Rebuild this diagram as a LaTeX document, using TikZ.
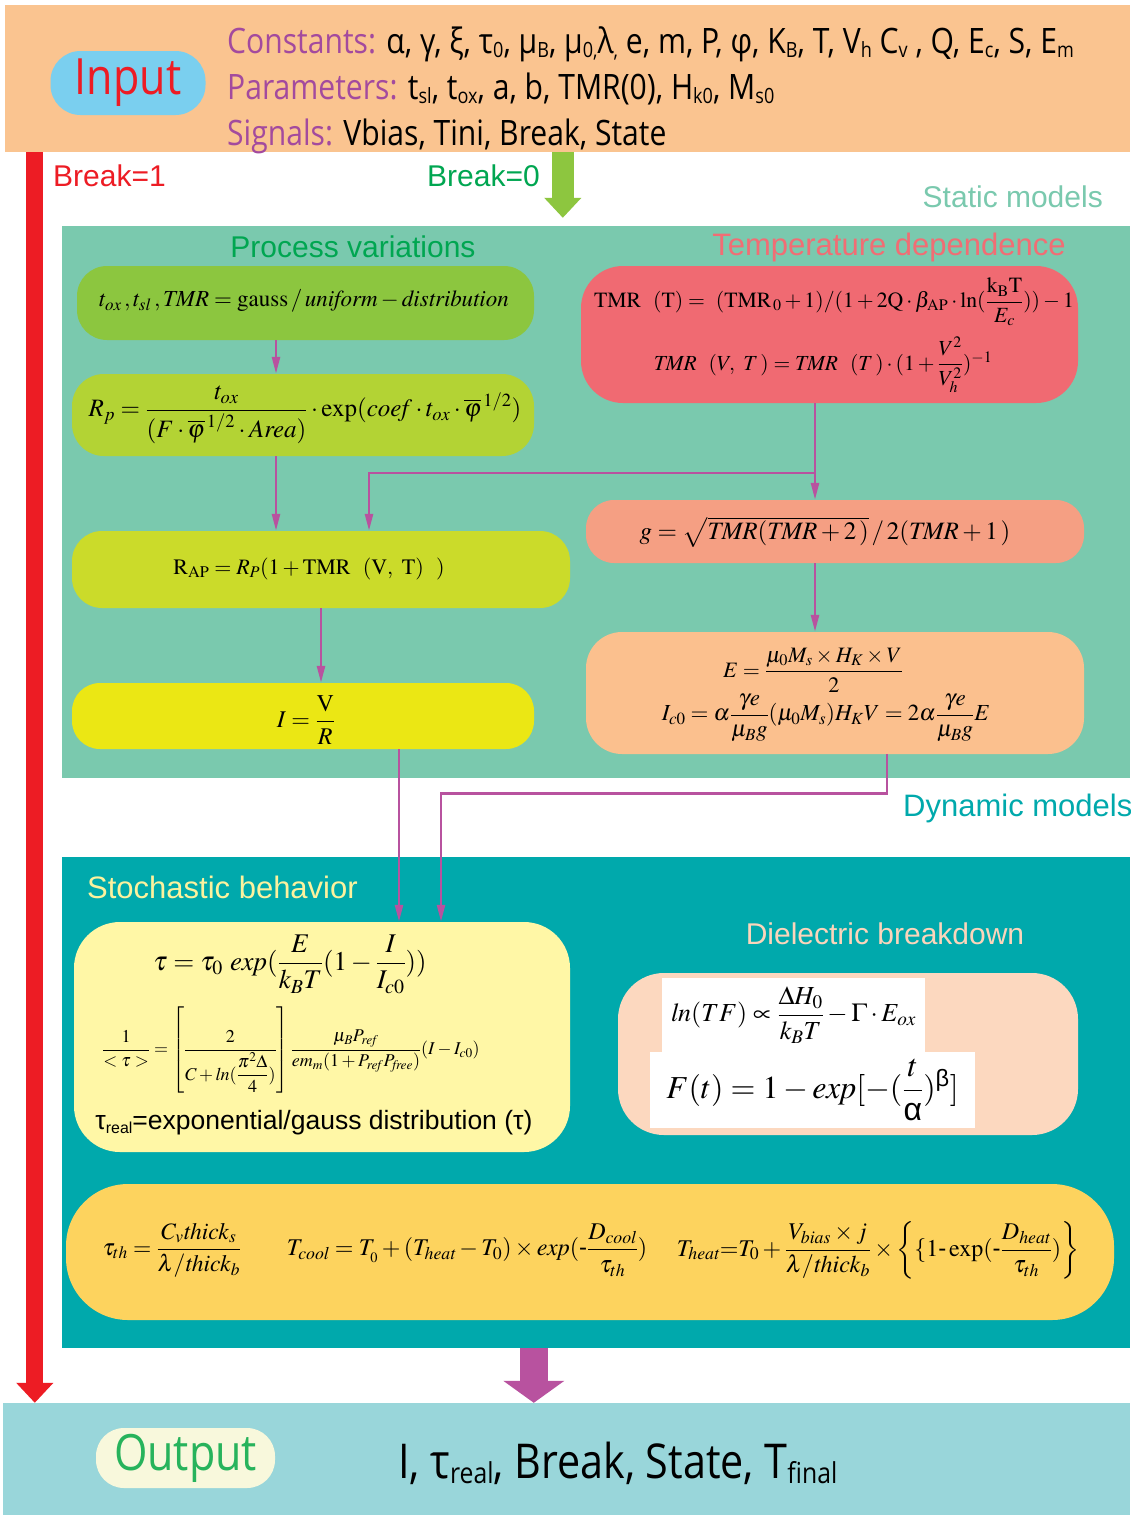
\documentclass[tikz,border=0pt]{standalone}
\usepackage{amsmath}
\usepackage{mathptmx}
\usepackage[no-math]{fontspec}
\setmainfont{Liberation Sans}
\newfontfamily\myriad[FakeStretch=0.86]{Open Sans}
\usetikzlibrary{arrows.meta}

\definecolor{inband}{HTML}{FAC490}
\definecolor{inpill}{HTML}{7ACFEF}
\definecolor{breakred}{HTML}{ED1C24}
\definecolor{labpurple}{HTML}{A34A9E}
\definecolor{breakgreen}{HTML}{00A651}
\definecolor{arrowgreen}{HTML}{8DC63F}
\definecolor{statband}{HTML}{7AC9AE}
\definecolor{tempred}{HTML}{F16D74}
\definecolor{toxbox}{HTML}{8CC63F}
\definecolor{rpbox}{HTML}{B3D334}
\definecolor{rapbox}{HTML}{CBDB2A}
\definecolor{ibox}{HTML}{EBE714}
\definecolor{tmrbox}{HTML}{F06A72}
\definecolor{gbox}{HTML}{F59F83}
\definecolor{ebox}{HTML}{FBC08E}
\definecolor{linkpurple}{HTML}{B8529F}
\definecolor{dynband}{HTML}{00A9AC}
\definecolor{stotext}{HTML}{FCF29E}
\definecolor{stobox}{HTML}{FFF7A6}
\definecolor{dieltext}{HTML}{FBD5BB}
\definecolor{dielbox}{HTML}{FCD8BF}
\definecolor{thermbox}{HTML}{FDD35E}
\definecolor{outband}{HTML}{99D6DA}
\definecolor{outpill}{HTML}{F8F8DC}
\definecolor{outgreen}{HTML}{27B35C}

% small lowered index in the text lines
\newcommand{\subtxt}[1]{\raisebox{-0.12em}{\scalebox{0.6}{#1}}}

\begin{document}
\begin{tikzpicture}[x=1pt, y=-1pt,
    band/.style={inner sep=0pt},
    stage/.style={inner sep=0pt, rounded corners=28pt},
    eqn/.style={inner sep=0pt, font=\fontsize{#1}{#1}\selectfont},
    head/.style={inner sep=0pt, font=\fontsize{30}{34}\selectfont},
    line/.style={inner sep=0pt, anchor=base west, font=\myriad\fontsize{35}{38}\selectfont},
    link/.style={draw=linkpurple, line width=2.6pt, -{Triangle[length=17pt,width=8pt]}},
    fat/.style={line width=#1, -{Triangle[length=20pt,width=36pt]}}]
    \useasboundingbox (0,0) rectangle (1130,1515);
    \fill[white] (0,0) rectangle (1130,1515);

    % Input band
    \node[band, fill=inband, minimum width=1125pt, minimum height=147pt] (inb) at (567.5,78.5) {};
    \node[fill=inpill, rounded corners=30pt, minimum width=155pt, minimum height=64pt, inner sep=0pt,
          font=\myriad\fontsize{50}{50}\selectfont, text=breakred] (input) at (128,83) {Input};
    \node[line] (const) at (227,53) {\textcolor{labpurple}{Constants:} α, γ, ξ, τ\subtxt{0}, μ\subtxt{B}, μ\subtxt{0,}λ\subtxt{,} e, m, P, φ, K\subtxt{B}, T, V\subtxt{h} C\subtxt{v} , Q, E\subtxt{c}, S, E\subtxt{m}};
    \node[line] (param) at (227,99) {\textcolor{labpurple}{Parameters:} t\subtxt{sl}, t\subtxt{ox}, a, b, TMR(0), H\subtxt{k0}, M\subtxt{s0}};
    \node[line] (sig) at (227,145) {\textcolor{labpurple}{Signals:} Vbias, Tini, Break, State};

    % Static models
    \node[head, text=breakred, anchor=west] (b1) at (53,176) {Break=1};
    \node[head, text=breakgreen, anchor=east] (b0) at (540,176) {Break=0};
    \node[head, text=statband, anchor=east] (stat) at (1103,197) {Static models};
    \node[band, fill=statband, minimum width=1068pt, minimum height=552pt] (sband) at (596,502) {};
    \node[head, text=breakgreen] (pv) at (353,247) {Process variations};
    \node[head, text=tempred, font=\fontsize{31}{34}\selectfont] (td) at (889,247) {Temperature dependence};

    \node[stage, fill=toxbox, minimum width=457pt, minimum height=74pt, rounded corners=30pt] (tox) at (305.5,303) {};
    \node[eqn=23] (toxeq) at (304,301) {$t_{ox}\,,t_{sl}\,,\mathit{TMR}=\mathrm{gauss}\,/\,\mathit{uniform}-\mathit{distribution}$};
    \node[stage, fill=rpbox, minimum width=462pt, minimum height=82pt, rounded corners=32pt] (rp) at (303,415) {};
    \node[eqn=25] (rpeq) at (305,415) {$R_p=\dfrac{t_{ox}}{(F\cdot\overline{\varphi}^{\,1/2}\cdot\mathit{Area})}\cdot\exp(\mathit{coef}\cdot t_{ox}\cdot\overline{\varphi}^{\,1/2})$};
    \node[stage, fill=rapbox, minimum width=498pt, minimum height=77pt, rounded corners=30pt] (rap) at (321,569.5) {};
    \node[eqn=22] (rapeq) at (309,569) {$\mathrm{R_{AP}}=R_P(1+\mathrm{TMR}\ \ (\mathrm{V},\ \mathrm{T})\ \ )$};
    \node[stage, fill=ibox, minimum width=462pt, minimum height=66pt, rounded corners=28pt] (ib) at (303,716) {};
    \node[eqn=24] (ieq) at (306,720) {$I=\dfrac{\mathrm{V}}{R}$};

    \node[stage, fill=tmrbox, minimum width=497pt, minimum height=137pt, rounded corners=42pt] (tmr) at (829.5,334.5) {};
    \node[eqn=21.7] (tmreq) at (834,302) {$\mathrm{TMR}\ \ (\mathrm{T})=\ (\mathrm{TMR}_{\,0}+1)/(1+2\mathrm{Q}\cdot\beta_{\mathrm{AP}}\cdot\ln(\dfrac{\mathrm{k_B T}}{E_c}))-1$};
    \node[eqn=21.5] (tmrvt) at (823,365) {$\mathit{TMR}\ \ (V,\ T\,)=\mathit{TMR}\ \ (T\,)\cdot(1+\dfrac{V^2}{V_h^2})^{-1}$};
    \node[stage, fill=gbox, minimum width=498pt, minimum height=63pt] (g) at (835,531.5) {};
    \node[eqn=25] (geq) at (825,532) {$g=\sqrt{\mathit{TMR}(\mathit{TMR}+2\,)}\,/\,2(\mathit{TMR}+1\,)$};
    \node[stage, fill=ebox, minimum width=498pt, minimum height=122pt, rounded corners=36pt] (e) at (835,693) {};
    \node[eqn=22] (eeq) at (813,670) {$E=\dfrac{\mu_0M_s\times H_K\times V}{2}$};
    \node[eqn=23] (iceq) at (826,718) {$I_{c0}=\alpha\dfrac{\gamma e}{\mu_Bg}(\mu_0M_s)H_KV=2\alpha\dfrac{\gamma e}{\mu_Bg}E$};

    % static links
    \draw[link] ([xshift=-29.5pt]tox.south) coordinate (c1) -- (c1 |- rp.north);
    \draw[link] ([xshift=-27pt]rp.south) coordinate (c2) -- (c2 |- rap.north);
    \draw[link] ([xshift=-14.5pt]tmr.south) coordinate (c3) -- (c3 |- g.north);
    \coordinate (split) at (815,473);
    \draw[link] (split) -| ([xshift=48pt]rap.north);
    \draw[link] ([xshift=-20pt]g.south) coordinate (c4) -- (c4 |- e.north);
    \draw[link] (rap.south) -- (rap.south |- ib.north);

    % Dynamic models
    \node[head, text=dynband, anchor=west, font=\fontsize{31}{34}\selectfont] (dyn) at (903,808) {Dynamic models};
    \node[band, fill=dynband, minimum width=1068pt, minimum height=491pt] (dband) at (596,1102.5) {};
    \node[head, text=stotext, anchor=west, font=\fontsize{31}{34}\selectfont] (sb) at (87,887) {Stochastic behavior};
    \node[head, text=dieltext] (db) at (885,934) {Dielectric breakdown};

    \node[stage, fill=stobox, minimum width=496pt, minimum height=230pt, rounded corners=46pt] (sto) at (322,1037) {};
    \node[eqn=27] (taueq) at (290,964) {$\tau=\tau_0\ \mathit{exp}(\dfrac{E}{k_BT}(1-\dfrac{I}{I_{c0}}))$};
    \node[eqn=18] (meaneq) at (291,1050) {$\dfrac{1}{<\tau>}=\left[\dfrac{2}{C+\mathit{ln}(\dfrac{\pi^2\Delta}{4})}\right]\dfrac{\mu_BP_{\mathit{ref}}}{\mathit{em}_m(1+P_{\mathit{ref}}P_{\mathit{free}})}(I-I_{c0})$};
    \node[eqn=26.5] (treal) at (314,1123) {τ\subtxt{real}=exponential/gauss distribution (τ)};

    \node[stage, fill=dielbox, minimum width=460pt, minimum height=162pt, rounded corners=46pt] (diel) at (848,1054) {};
    \node[eqn=26, fill=white, minimum width=263pt, minimum height=74pt] (tfeq) at (793.5,1015) {$\mathit{ln}(TF)\propto\dfrac{\Delta H_0}{k_BT}-\Gamma\cdot E_{ox}$};
    \node[eqn=32, fill=white, minimum width=325pt, minimum height=76pt] (fteq) at (812.5,1090) {$F(t)=1-\mathit{exp}[-(\dfrac{t}{\text{α}})^{\text{β}}]$};

    \node[stage, fill=thermbox, minimum width=1048pt, minimum height=136pt, rounded corners=62pt] (th) at (590,1252) {};
    \node[eqn=23.5] (theq) at (172,1250) {$\tau_{th}=\dfrac{C_v\mathit{thick}_s}{\lambda/\mathit{thick}_b}$};
    \node[eqn=24] (cooleq) at (467,1250) {$T_{\mathit{cool}}=T_{_0}+\left(T_{\mathit{heat}}-T_0\right)\times\mathit{exp}(\text{-}\dfrac{D_{\mathit{cool}}}{\tau_{th}})$};
    \node[eqn=24] (heateq) at (878,1250) {$T_{\mathit{heat}}{=}T_0+\dfrac{V_{\mathit{bias}}\times j}{\lambda/\mathit{thick}_b}\times\left\{\{1\text{-}\exp(\text{-}\dfrac{D_{\mathit{heat}}}{\tau_{th}})\right\}$};

    % dynamic links
    \draw[link] ([xshift=96pt]ib.south) coordinate (c5) -- (c5 |- sto.north);
    \draw[link] ([xshift=52pt]e.south) -- ++(0,39) -| ([xshift=119pt]sto.north);

    % Output band
    \node[band, fill=outband, minimum width=1127pt, minimum height=112pt] (outb) at (566.5,1459) {};
    \node[fill=outpill, rounded corners=28pt, minimum width=179pt, minimum height=60pt, inner sep=0pt,
          font=\myriad\fontsize{50}{50}\selectfont, text=outgreen] (output) at (185.5,1458) {Output};
    \node[line, font=\myriad\fontsize{48}{48}\selectfont] (res) at (398,1478) {I, τ\subtxt{real}, Break, State, T\subtxt{final}};

    % big arrows
    \draw[fat=17pt, breakred] ([xshift=30pt]inb.south west) -- ([xshift=32pt]outb.north west);
    \draw[fat=22pt, arrowgreen, shorten >=8pt] ([xshift=558pt]inb.south west) -- ([xshift=501pt]sband.north west);
    \draw[fat=28pt, linkpurple, -{Triangle[length=22pt,width=60pt]}] ([xshift=472pt]dband.south west) -- ([xshift=531pt]outb.north west);
\end{tikzpicture}
\end{document}
